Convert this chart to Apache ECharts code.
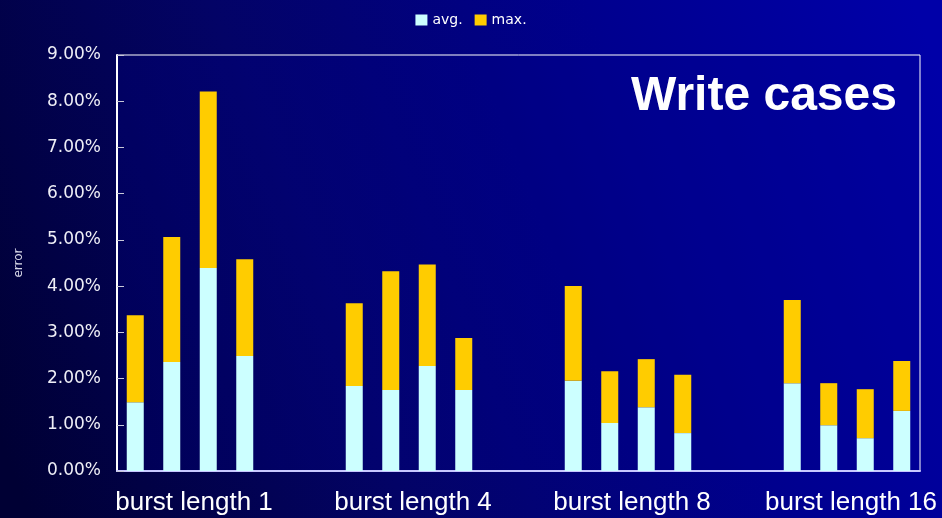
<!DOCTYPE html>
<html>
<head>
<meta charset="utf-8">
<style>
  html, body { margin: 0; padding: 0; background: #000060; }
  #chart { width: 942px; height: 518px; }
</style>
<script src="https://cdn.jsdelivr.net/npm/echarts@6/dist/echarts.min.js"></script>
</head>
<body>
<div id="chart"></div>
<script>
// Error of the write cases, per burst length (four configurations each), in percent
const groupNames = ['burst length 1', 'burst length 4', 'burst length 8', 'burst length 16'];
const avgValues = [
  [1.49, 2.36, 4.39, 2.49],
  [1.84, 1.75, 2.27, 1.75],
  [1.95, 1.04, 1.38, 0.82],
  [1.90, 0.99, 0.71, 1.30]
];
const maxValues = [
  [3.37, 5.06, 8.21, 4.58],
  [3.63, 4.32, 4.47, 2.88],
  [4.00, 2.16, 2.42, 2.08],
  [3.70, 1.90, 1.77, 2.38]
];
const yTicks = { min: 0, max: 9, step: 1 };
const gapSlots = 2; // empty slots between two groups of bars

// One category slot per bar, plus empty slots between groups
const slots = [];
const avgSlots = [];
const extraSlots = [];
groupNames.forEach((g, gi) => {
  if (gi > 0) {
    for (let k = 0; k < gapSlots; k++) {
      slots.push('');
      avgSlots.push(null);
      extraSlots.push(null);
    }
  }
  avgValues[gi].forEach((a, bi) => {
    slots.push(g + ' #' + (bi + 1));
    avgSlots.push(a);
    extraSlots.push(+(maxValues[gi][bi] - a).toFixed(4));
  });
});

// Group label axis: points every two slots, a label at each group centre
const perGroup = avgValues[0].length + gapSlots;
const labelPoints = [];
for (let i = 0; i <= slots.length / 2; i++) labelPoints.push('');
groupNames.forEach((g, gi) => { labelPoints[(gi * perGroup + 2) / 2] = g; });

const chart = echarts.init(document.getElementById('chart'), null, { renderer: 'canvas' });
chart.setOption({
  animation: false,
  backgroundColor: {
    type: 'linear', x: 0, y: 0.85, x2: 1, y2: 0.15,
    colorStops: [
      { offset: 0, color: '#000034' },
      { offset: 0.35, color: '#030366' },
      { offset: 0.7, color: '#00008e' },
      { offset: 1, color: '#0000a8' }
    ]
  },
  title: {
    text: 'Write cases',
    left: 631, top: 73, padding: 0,
    textStyle: { color: '#ffffff', fontFamily: 'Liberation Sans', fontWeight: 'bold', fontSize: 48 }
  },
  legend: {
    top: 8, left: 'center',
    itemWidth: 12, itemHeight: 11, itemGap: 12,
    icon: 'rect',
    textStyle: { color: '#ffffff', fontFamily: 'DejaVu Sans', fontSize: 14 },
    data: ['avg.', 'max.']
  },
  grid: {
    left: 117, right: 22, top: 55, bottom: 47,
    show: true, borderColor: '#ffffff', borderWidth: 1, backgroundColor: 'rgba(0,0,140,0.25)'
  },
  xAxis: [
    {
      type: 'category', data: slots,
      axisLine: { show: true, lineStyle: { color: '#c8c8ff', width: 2 } },
      axisTick: { show: false }, axisLabel: { show: false }, splitLine: { show: false }
    },
    {
      type: 'category', data: labelPoints, boundaryGap: false, position: 'bottom',
      axisLine: { show: false }, axisTick: { show: false }, splitLine: { show: false },
      axisLabel: {
        interval: 0, margin: 19, color: '#ffffff', padding: [0, 0, 0, 8],
        fontFamily: 'Liberation Sans', fontSize: 26
      }
    }
  ],
  yAxis: {
    type: 'value', min: yTicks.min, max: yTicks.max, interval: yTicks.step,
    name: 'error', nameLocation: 'middle', nameGap: 92, nameRotate: 90,
    nameTextStyle: { color: '#d8d8e8', fontFamily: 'DejaVu Sans', fontSize: 12 },
    axisLine: { show: true, lineStyle: { color: '#ffffff', width: 2 } },
    axisTick: { show: true, inside: true, length: 7, lineStyle: { color: '#c8c8d8', width: 1 } },
    splitLine: { show: false },
    axisLabel: {
      margin: 16, color: '#eeeef6', fontFamily: 'DejaVu Sans', fontSize: 17,
      formatter: v => v.toFixed(2) + '%'
    }
  },
  series: [
    {
      name: 'avg.', type: 'bar', stack: 'err', xAxisIndex: 0, barWidth: 17,
      itemStyle: { color: '#ccffff' }, data: avgSlots
    },
    {
      name: 'max.', type: 'bar', stack: 'err', xAxisIndex: 0, barWidth: 17,
      itemStyle: { color: '#ffcc00' }, data: extraSlots
    }
  ]
});
</script>
</body>
</html>
